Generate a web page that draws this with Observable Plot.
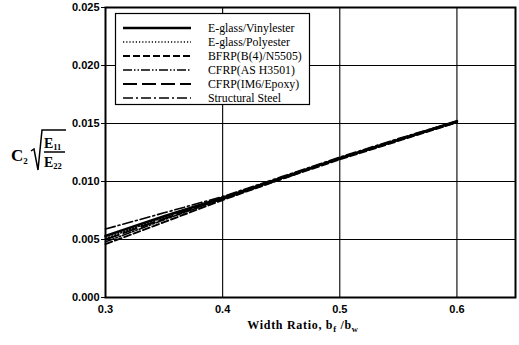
<!DOCTYPE html>
<html>
<head>
<meta charset="utf-8">
<script src="https://cdn.jsdelivr.net/npm/d3@7"></script>
<script src="https://cdn.jsdelivr.net/npm/@observablehq/plot@0.6"></script>
<style>
  html, body { margin: 0; padding: 0; background: #fff; }
  #wrap { position: relative; width: 519px; height: 345px; overflow: hidden; }
  #wrap svg { position: absolute; left: 0; top: 0; }
</style>
</head>
<body>
<div id="wrap"></div>
<script>
// ---- data ----
const widthRatio = [0.30, 0.35, 0.40, 0.45, 0.50, 0.55, 0.60];
const seriesNames = [
  "E-glass/Vinylester",
  "E-glass/Polyester",
  "BFRP(B(4)/N5505)",
  "CFRP(AS H3501)",
  "CFRP(IM6/Epoxy)",
  "Structural Steel"
];
const eglassVinylester = [0.0053, 0.0070, 0.0086, 0.0103, 0.0120, 0.0136, 0.0152];
const eglassPolyester  = [0.0051, 0.0069, 0.0086, 0.0103, 0.0120, 0.0136, 0.0151];
const bfrp             = [0.0046, 0.0065, 0.0084, 0.0102, 0.0119, 0.0135, 0.0151];
const cfrpAS           = [0.0048, 0.0067, 0.0085, 0.0103, 0.0120, 0.0136, 0.0152];
const cfrpIM6          = [0.0050, 0.0068, 0.0085, 0.0102, 0.0120, 0.0136, 0.0151];
const structuralSteel  = [0.0059, 0.0073, 0.0087, 0.0104, 0.0121, 0.0137, 0.0152];
const xTicks = [0.3, 0.4, 0.5, 0.6];
const yTicks = [0.000, 0.005, 0.010, 0.015, 0.020, 0.025];

const seriesValues = [eglassVinylester, eglassPolyester, bfrp, cfrpAS, cfrpIM6, structuralSteel];

// ---- styles ----
const lineStyles = [
  {dash: null, width: 2.6},
  {dash: "1.2,2", width: 1.4},
  {dash: "7,3", width: 1.9},
  {dash: "9,2,1.5,2,1.5,2", width: 1.6},
  {dash: "14,5", width: 1.9},
  {dash: "10,3,2,3", width: 1.6}
];

const tables = seriesValues.map((vals, i) =>
  widthRatio.map((x, j) => ({x, y: vals[j], series: seriesNames[i]}))
);

const lineMarks = tables.map((t, i) => Plot.line(t, {
  x: "x", y: "y",
  stroke: "#000",
  strokeWidth: lineStyles[i].width,
  strokeDasharray: lineStyles[i].dash
}));

const chart = Plot.plot({
  width: 519,
  height: 345,
  marginLeft: 105,
  marginRight: 4,
  marginTop: 7,
  marginBottom: 48,
  style: {fontFamily: "'Liberation Sans', Arial, sans-serif", fontSize: "11px", fontWeight: "bold", color: "#000", background: "#fff"},
  x: {domain: [0.3, 0.65], ticks: xTicks, tickFormat: d3.format(".1f"), label: null},
  y: {domain: [0, 0.025], ticks: yTicks, tickFormat: d3.format(".3f"), label: null},
  marks: [
    Plot.ruleX(xTicks.filter(d => d > 0.3), {stroke: "#000", strokeWidth: 1.1}),
    Plot.ruleY(yTicks.filter(d => d > 0 && d < 0.025), {stroke: "#000", strokeWidth: 1.1}),
    ...lineMarks,
    Plot.frame({stroke: "#000", strokeWidth: 2}),
    Plot.axisX({ticks: xTicks, tickFormat: d3.format(".1f"), tickSize: 0, tickPadding: 8, label: null}),
    Plot.axisY({ticks: yTicks, tickFormat: d3.format(".3f"), tickSize: 4, tickPadding: 2, label: null})
  ]
});
document.getElementById("wrap").appendChild(chart);

// ---- overlay: legend and axis titles ----
const ov = d3.select("#wrap").append("svg")
  .attr("width", 519).attr("height", 345)
  .style("pointer-events", "none");

// legend
const lg = ov.append("g");
lg.append("rect").attr("x", 115.5).attr("y", 13.5).attr("width", 194).attr("height", 91)
  .attr("fill", "#fff").attr("stroke", "#000").attr("stroke-width", 1.2);
const rowY = [28, 42, 56, 70, 84, 98];
seriesNames.forEach((name, i) => {
  lg.append("line").attr("x1", 123).attr("x2", 191).attr("y1", rowY[i]).attr("y2", rowY[i])
    .attr("stroke", "#000").attr("stroke-width", lineStyles[i].width)
    .attr("stroke-dasharray", lineStyles[i].dash);
  lg.append("text").attr("x", 208).attr("y", rowY[i] + 4)
    .attr("font-family", "'Liberation Serif', 'Times New Roman', serif")
    .attr("font-size", 11.8).attr("fill", "#000").text(name);
});

// x axis title
const xt = ov.append("text").attr("x", 303).attr("y", 329).attr("text-anchor", "middle")
  .attr("font-family", "'Liberation Serif', 'Times New Roman', serif")
  .attr("font-size", 12).attr("font-weight", "bold").attr("letter-spacing", 0.7).attr("fill", "#000");
xt.append("tspan").text("Width Ratio, b");
xt.append("tspan").attr("font-size", 8.5).attr("dy", 3).text("f");
xt.append("tspan").attr("dy", -3).text(" /b");
xt.append("tspan").attr("font-size", 8.5).attr("dy", 3).text("w");

// y axis title: C2 sqrt(E11/E22)
const yt = ov.append("g").attr("font-family", "'Liberation Serif', 'Times New Roman', serif")
  .attr("font-weight", "bold").attr("fill", "#000");
const ct = yt.append("text").attr("x", 11).attr("y", 161).attr("font-size", 17);
ct.append("tspan").text("C");
ct.append("tspan").attr("font-size", 9).attr("dy", 3).text("2");
yt.append("path").attr("d", "M31 151 L34 149 L38 170 L42 130 L66 130")
  .attr("fill", "none").attr("stroke", "#000").attr("stroke-width", 1.5);
yt.append("line").attr("x1", 44).attr("x2", 65).attr("y1", 152).attr("y2", 152)
  .attr("stroke", "#000").attr("stroke-width", 1.5);
const e1 = yt.append("text").attr("x", 44).attr("y", 148).attr("font-size", 14);
e1.append("tspan").text("E");
e1.append("tspan").attr("font-size", 8.5).attr("dy", 2).text("11");
const e2 = yt.append("text").attr("x", 44).attr("y", 167).attr("font-size", 14);
e2.append("tspan").text("E");
e2.append("tspan").attr("font-size", 8.5).attr("dy", 2).text("22");
</script>
</body>
</html>
